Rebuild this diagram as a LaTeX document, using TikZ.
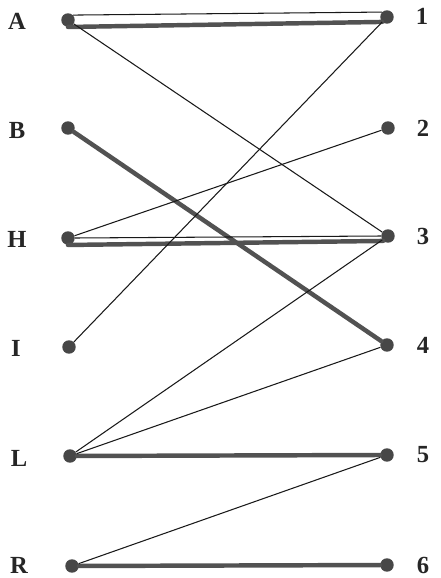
\documentclass[tikz,border=0pt]{standalone}
\usepackage{fontspec}
\setmainfont{Liberation Serif}
\usepackage{tikz}
\usetikzlibrary{positioning, calc}
\tikzset{
    vertex/.style={circle, fill=black!72, inner sep=0pt, minimum size=11.5pt},
    tag/.style={font=\fontsize{21}{23}\selectfont\bfseries, text=black!85, inner sep=0pt},
    thinedge/.style={black!90, line width=0.9pt},
    thickedge/.style={black!68, line width=3.8pt, line cap=round}
}
\begin{document}
\begin{tikzpicture}[x=0.03cm, y=-0.03cm]
            \useasboundingbox (0,0) rectangle (440,578);

            % Left vertices
            \node[vertex] (A) at (68,20) {};
            \node[vertex] (B) at (68,128) {};
            \node[vertex] (H) at (68,238) {};
            \node[vertex] (I) at (69,347) {};
            \node[vertex] (L) at (70,456) {};
            \node[vertex] (R) at (72,566) {};

            % Right vertices
            \node[vertex] (n1) at (387,17) {};
            \node[vertex] (n2) at (388,128) {};
            \node[vertex] (n3) at (388,236) {};
            \node[vertex] (n4) at (387,345) {};
            \node[vertex] (n5) at (387,455) {};
            \node[vertex] (n6) at (387,565) {};

            % Labels
            \node[tag] (tA) at (17,21) {A};
            \node[tag] (tB) at (17,130) {B};
            \node[tag] (tH) at (17,239) {H};
            \node[tag] (tI) at (16,348) {I};
            \node[tag] (tL) at (19,458) {L};
            \node[tag] (tR) at (19,565) {R};
            \node[tag] (t1) at (422,16) {1};
            \node[tag] (t2) at (423,128) {2};
            \node[tag] (t3) at (423,236) {3};
            \node[tag] (t4) at (423,345) {4};
            \node[tag] (t5) at (423,455) {5};
            \node[tag] (t6) at (423,565) {6};

            % Thick edges
            \draw[thickedge] (A.south) -- (n1.south west);
            \draw[thickedge] (B) -- (n4);
            \draw[thickedge] (H.south) -- (n3.south west);
            \draw[thickedge] (L) -- (n5.west);
            \draw[thickedge] (R) -- (n6);

            % Thin edges
            \draw[thinedge] (A.north east) -- (n1.north west);
            \draw[thinedge] (A) -- (n3);
            \draw[thinedge] (H) -- (n2);
            \draw[thinedge] (H.east) -- (n3.west);
            \draw[thinedge] (I) -- (n1);
            \draw[thinedge] (L) -- (n3);
            \draw[thinedge] (L) -- (n4);
            \draw[thinedge] (R) -- (n5);
		\end{tikzpicture}
\end{document}
